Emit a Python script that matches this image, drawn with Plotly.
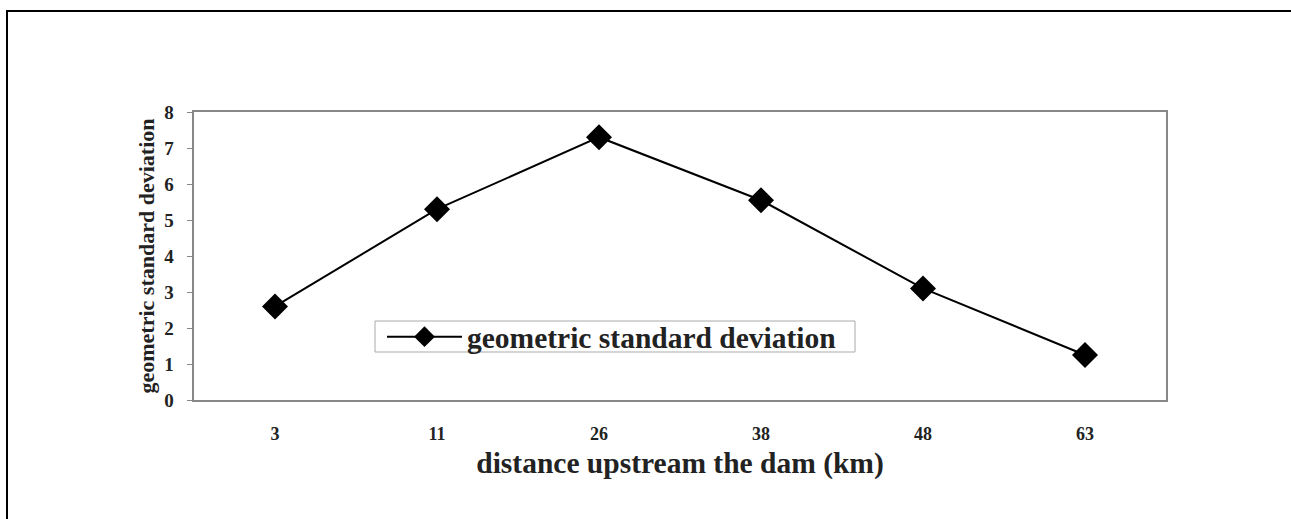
import plotly.graph_objects as go

categories = ["3", "11", "26", "38", "48", "63"]
gsd_values = [2.6, 5.3, 7.3, 5.55, 3.1, 1.25]
y_ticks = [0, 1, 2, 3, 4, 5, 6, 7, 8]

W, H = 1291, 519
L, R, T, B = 194, 125, 112, 119
pw, ph = W - L - R, H - T - B

serif = "Liberation Serif, Times New Roman, serif"

def px_x(p):
    return (p - L) / pw

def px_y(p):
    return (H - B - p) / ph

fig = go.Figure()
fig.add_trace(go.Scatter(
    x=categories, y=gsd_values, mode="lines+markers",
    name="geometric standard deviation",
    line=dict(color="black", width=2),
    marker=dict(symbol="diamond", size=20, color="black"),
))

fig.update_layout(
    width=W, height=H,
    margin=dict(l=L, r=R, t=T, b=B, autoexpand=False),
    paper_bgcolor="white", plot_bgcolor="white",
    font=dict(family=serif, color="#222"),
    showlegend=True,
    legend=dict(
        x=px_x(382), y=px_y(311), xanchor="left", yanchor="top",
        bgcolor="rgba(0,0,0,0)", borderwidth=0,
        font=dict(family=serif, size=29.5, color="#222", weight="bold"),
        itemwidth=75, tracegroupgap=0,
    ),
    xaxis=dict(
        type="category", range=[-0.5, 5.5],
        showline=True, linecolor="#888", linewidth=2, mirror=True,
        showgrid=False, zeroline=False,
        ticks="outside", ticklen=16, tickcolor="rgba(0,0,0,0)",
        tickfont=dict(family=serif, size=18, color="#222", weight="bold"),
        title=dict(text="distance upstream the dam (km)", standoff=10,
                   font=dict(family=serif, size=29.5, color="#222", weight="bold")),
    ),
    yaxis=dict(
        range=[0, 8], tickvals=y_ticks,
        ticktext=[f"{v}\u00a0\u00a0" for v in y_ticks],
        showline=True, linecolor="#888", linewidth=2, mirror=True,
        showgrid=False, zeroline=False,
        ticks="outside", ticklen=5, tickcolor="#888",
        tickfont=dict(family=serif, size=19, color="#222", weight="bold"),
        title=dict(text="geometric standard deviation", standoff=4,
                   font=dict(family=serif, size=22, color="#222", weight="bold")),
    ),
)

# legend box
fig.add_shape(type="rect", xref="paper", yref="paper",
              x0=px_x(375), x1=px_x(855), y0=px_y(352), y1=px_y(321),
              line=dict(color="#aaa", width=1), fillcolor="white", layer="below")

# outer image frame (top and left visible)
fig.add_shape(type="rect", xref="paper", yref="paper",
              x0=px_x(7), x1=px_x(W + 20),
              y0=px_y(H + 20), y1=px_y(11),
              line=dict(color="black", width=2), fillcolor="rgba(0,0,0,0)")

fig.write_html("out.html", config={"displayModeBar": False},
               post_script="document.body.style.margin='0';document.body.style.overflow='hidden';")
